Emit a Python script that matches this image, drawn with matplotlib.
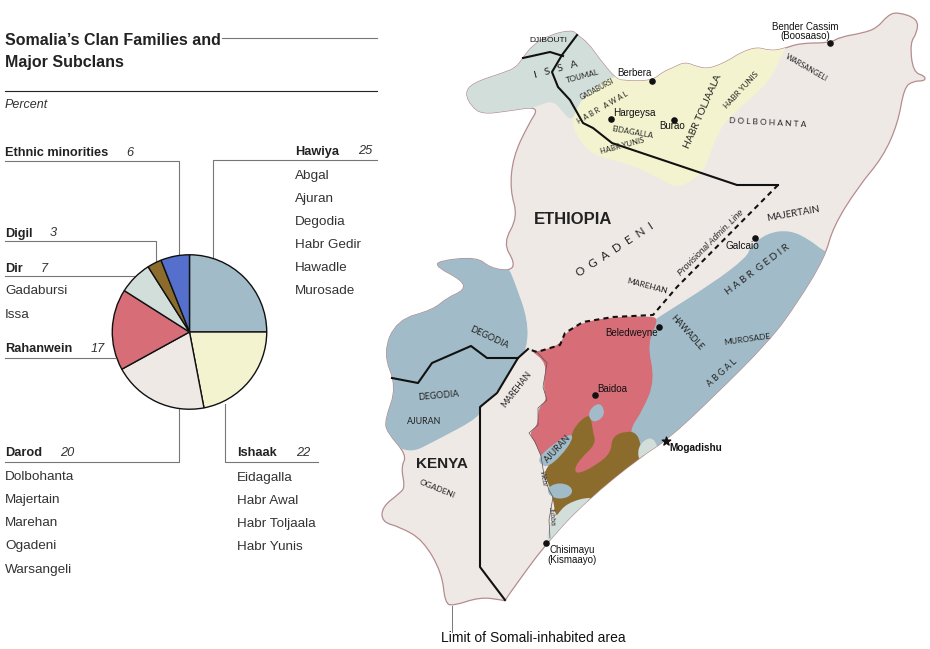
import matplotlib
matplotlib.use('Agg')
import matplotlib.pyplot as plt
from matplotlib.patches import Ellipse, PathPatch
from matplotlib.path import Path

# pie values
clans = ['Hawiya', 'Ishaak', 'Darod', 'Rahanwein', 'Dir', 'Digil', 'Ethnic minorities']
percent = [25, 22, 20, 17, 7, 3, 6]
clan_colors = ['#A1BCC8', '#F3F4CF', '#EFE9E6', '#D66D77', '#D2DEDA', '#8B6C2C', '#5470CC']

hawiya_sub = ['Abgal', 'Ajuran', 'Degodia', 'Habr Gedir', 'Hawadle', 'Murosade']
ishaak_sub = ['Eidagalla', 'Habr Awal', 'Habr Toljaala', 'Habr Yunis']
darod_sub = ['Dolbohanta', 'Majertain', 'Marehan', 'Ogadeni', 'Warsangeli']
dir_sub = ['Gadabursi', 'Issa']

# map outlines, traced in pixels of the reference
# the regions run past the coast where they meet it, they get clipped to the land
land = [(465, 93), (473, 83), (503, 73), (516, 68), (523, 58), (533, 45), (550, 35), (572, 30), (577, 35), (588, 43),
        (600, 60), (615, 78), (623, 81), (652, 81), (663, 72), (673, 68), (685, 62), (697, 67), (710, 69),
        (730, 60), (740, 53), (757, 47), (770, 51), (783, 49), (800, 43), (830, 43), (840, 37), (863, 33),
        (877, 28), (888, 15), (898, 12), (918, 19), (917, 33), (910, 43), (913, 72), (925, 76), (925, 81),
        (913, 81), (904, 88), (898, 123), (883, 157), (858, 187), (833, 227), (825, 257), (797, 303),
        (770, 340), (713, 397), (667, 440), (640, 457), (587, 500), (547, 542), (507, 597), (505, 601),
        (502, 600), (480, 597), (453, 606), (445, 603), (442, 573), (423, 540), (400, 527), (382, 522),
        (382, 507), (400, 493), (405, 487), (401, 467), (407, 455), (387, 432), (385, 420), (397, 387),
        (383, 353), (397, 320), (433, 310), (447, 298), (465, 290), (462, 280), (437, 267), (438, 261),
        (477, 257), (490, 268), (510, 271), (515, 263), (503, 243), (518, 217), (510, 190), (513, 157),
        (528, 125), (540, 106), (507, 111), (483, 114), (472, 107)]
issa = [(455, 90), (470, 70), (516, 58), (525, 40), (550, 25), (585, 25), (600, 50), (622, 72), (625, 80), (597, 87),
        (582, 98), (572, 123), (560, 108), (552, 101), (540, 105), (507, 116), (480, 122), (455, 110)]
ishaak_area = [(612, 76), (650, 72), (663, 60), (685, 50), (710, 58), (757, 36), (792, 40), (783, 51),
               (770, 82), (733, 113), (717, 133), (705, 170), (693, 180), (677, 188), (663, 180),
               (633, 165), (600, 157), (587, 150), (575, 133), (572, 120), (582, 98), (597, 87)]
hawiya_east = [(838, 258), (822, 250), (810, 240), (790, 230), (767, 233), (750, 247), (747, 257), (713, 283),
               (657, 318), (640, 330), (640, 380), (625, 432), (640, 450), (665, 448), (720, 403), (776, 345),
               (804, 306)]
hawiya_west = [(407, 455), (380, 432), (378, 420), (390, 387), (376, 353), (390, 314), (433, 303), (445, 292),
               (458, 286), (456, 280), (430, 267), (432, 255), (480, 250), (492, 262), (508, 266),
               (515, 283), (528, 320), (527, 349), (518, 358), (497, 393), (480, 407), (480, 417),
               (437, 440)]
rahanwein_area = [(530, 350), (537, 352), (560, 345), (565, 333), (583, 322), (613, 317), (650, 316), (659, 319),
                  (647, 343), (655, 380), (643, 410), (628, 432), (640, 445), (612, 470), (577, 482),
                  (560, 470), (545, 465), (541, 456), (535, 442), (529, 433), (538, 425), (538, 408), (547, 400),
                  (543, 387), (547, 363)]
inner_blue = [(600, 401), (606, 415), (593, 424), (587, 412)]
ajuran_area = [(538, 458), (552, 445), (571, 433), (573, 439), (562, 455), (548, 467), (541, 465)]
digil_area = [(587, 415), (575, 426), (571, 437), (562, 453), (548, 465), (544, 475), (548, 482), (553, 498),
              (556, 520), (567, 505), (587, 500), (600, 505), (650, 462), (642, 453), (638, 433), (625, 431),
              (612, 437), (611, 453), (595, 466), (578, 474), (574, 470), (580, 459), (596, 444), (593, 432),
              (591, 418)]
dir_south = [(592, 496), (567, 503), (557, 515), (549, 525), (546, 548), (600, 505)]
dir_moga = [(637, 447), (650, 436), (658, 445), (655, 455), (640, 465)]

ethiopia_border = [(577, 35), (562, 55), (552, 72), (558, 87), (570, 100), (583, 123), (593, 128),
                   (612, 143), (737, 185), (778, 185)]
admin_line = [(778, 185), (677, 287), (653, 315), (613, 317), (583, 322), (565, 333), (560, 345),
              (537, 352), (528, 349)]
kenya_border = [(528, 349), (518, 358), (497, 393), (480, 407), (480, 567), (505, 600)]
kenya_ethiopia = [(392, 378), (418, 383), (432, 363), (471, 346), (487, 358), (518, 358)]
djibouti_border = [(523, 58), (550, 52), (563, 56)]
river = [(537, 352), (547, 363), (543, 387), (547, 400), (538, 408), (538, 425), (529, 433), (535, 442), (541, 456),
         (544, 475), (549, 490), (553, 497), (549, 520), (550, 538)]

W, H = 930, 649
SANS = 'Liberation Sans'
MAP = 'Lato'
GREY = '#777777'
DARK = '#333333'


def rounded(pts):
    # closed outline, quadratic curves between edge midpoints
    mids = [((a[0] + b[0]) / 2, (a[1] + b[1]) / 2) for a, b in zip(pts, pts[1:] + pts[:1])]
    verts = [mids[-1]]
    codes = [Path.MOVETO]
    for i, p in enumerate(pts):
        verts += [p, mids[i]]
        codes += [Path.CURVE3, Path.CURVE3]
    return Path(verts, codes)


def main():
    fig = plt.figure(figsize=(W / 100, H / 100), dpi=100)
    ax = fig.add_axes([0, 0, 1, 1])
    ax.set_xlim(0, W)
    ax.set_ylim(H, 0)
    ax.axis('off')

    def txt(x, y, s, size=9.7, color=DARK, weight='normal', style='normal', ha='left', rot=0, font=SANS):
        if size >= 9:
            y += 1.5
        ax.text(x, y, s, fontsize=size, color=color, fontweight=weight, fontstyle=style, ha=ha,
                va='center', rotation=rot, rotation_mode='anchor', family=font, zorder=6)

    def line(pts, color=GREY, lw=0.8, ls='-', z=2):
        ax.plot([p[0] for p in pts], [p[1] for p in pts], color=color, lw=lw, ls=ls, zorder=z,
                solid_joinstyle='round')

    # title block
    txt(5, 39, 'Somalia\u2019s Clan Families and', size=11.5, weight='bold', color='#222222')
    txt(5, 61, 'Major Subclans', size=11.5, weight='bold', color='#222222')
    line([(222, 38), (377, 38)])
    line([(5, 91), (377, 91)], color='#222222')
    txt(5, 104, 'Percent', size=9, style='italic')

    # labels on the pie and their leaders
    head = dict(size=9.2, weight='bold', color='#222222')
    num = dict(size=9.2, style='italic')
    txt(5, 151, clans[6], **head)
    txt(126, 151, str(percent[6]), **num)
    line([(5, 160.5), (179, 160.5), (179, 256)])
    txt(5, 232, clans[5], **head)
    txt(50, 232, str(percent[5]), **num)
    line([(5, 241), (156, 241), (156, 265)])
    txt(5, 267, clans[4], **head)
    txt(41, 267, str(percent[4]), **num)
    line([(5, 276), (135, 276)])
    for i, s in enumerate(dir_sub):
        txt(5, 290 + i * 23.3, s)
    txt(5, 348, clans[3], **head)
    txt(91, 348, str(percent[3]), **num)
    line([(5, 357.5), (115, 357.5)])
    txt(5, 452, clans[2], **head)
    txt(60, 452, str(percent[2]), **num)
    line([(5, 462), (179, 462), (179, 408)])
    for i, s in enumerate(darod_sub):
        txt(5, 476 + i * 23, s)
    txt(237, 452, clans[1], **head)
    txt(296, 452, str(percent[1]), **num)
    line([(225, 404), (225, 462), (318, 462)])
    for i, s in enumerate(ishaak_sub):
        txt(237, 476 + i * 23, s)
    txt(295, 150, clans[0], **head)
    txt(358, 150, str(percent[0]), **num)
    line([(213, 258), (213, 160), (377, 160)])
    for i, s in enumerate(hawiya_sub):
        txt(295, 174 + i * 23.2, s)

    # pie
    cx, cy, r = 189.5, 332, 78
    pie_ax = fig.add_axes([(cx - r) / W, 1 - (cy + r) / H, 2 * r / W, 2 * r / H])
    pie_ax.pie(percent, colors=clan_colors, startangle=90, counterclock=False, radius=1,
               wedgeprops=dict(edgecolor='#111111', linewidth=1.0))
    pie_ax.set_xlim(-1.01, 1.01)
    pie_ax.set_ylim(-1.01, 1.01)

    # map
    land_patch = PathPatch(rounded(land), fc='#EFE9E6', ec='#B58C90', lw=0.9, zorder=1)
    ax.add_patch(land_patch)
    for pts, col in [(issa, '#D2DEDA'), (ishaak_area, '#F3F4CF'), (hawiya_east, '#A1BCC8'),
                     (hawiya_west, '#A1BCC8'), (rahanwein_area, '#D66D77'), (digil_area, '#8B6C2C'),
                     (inner_blue, '#A1BCC8'), (ajuran_area, '#A1BCC8'), (dir_south, '#D2DEDA'),
                     (dir_moga, '#D2DEDA')]:
        region = PathPatch(rounded(pts), fc=col, ec='none', zorder=2)
        ax.add_patch(region)
        region.set_clip_path(land_patch)
    ax.add_patch(Ellipse((560, 491), 24, 15, fc='#A1BCC8', ec='none', zorder=3))
    line(river, color='#555555', lw=0.5, z=3)
    for pts in (ethiopia_border, kenya_border, kenya_ethiopia, djibouti_border):
        line(pts, color='#111111', lw=1.5, z=4)
    line(admin_line, color='#111111', lw=1.5, ls=(0, (2.5, 2)), z=4)
    line([(452, 606), (452, 632)], lw=0.7)

    # cities
    cities = [(830, 43), (652, 81), (611, 118.5), (674, 120), (755, 238), (659, 326.5), (594.5, 395), (546, 543)]
    ax.scatter([c[0] for c in cities], [c[1] for c in cities], s=14, color='#111111', zorder=5)
    ax.scatter([666], [441], s=40, marker='*', color='#111111', zorder=5)
    black = '#111111'
    txt(805, 27, 'Bender Cassim', size=7, ha='center', color=black)
    txt(805, 36, '(Boosaaso)', size=7, ha='center', color=black)
    txt(634, 73, 'Berbera', size=7, ha='center', color=black)
    txt(634, 113, 'Hargeysa', size=7.2, ha='center', color=black)
    txt(672, 126, 'Burao', size=7, ha='center', color=black)
    txt(742, 246, 'Galcaio', size=7.2, ha='center', color=black)
    txt(548, 40, 'DJIBOUTI', size=6, ha='center', color=black)
    txt(632, 333, 'Beledweyne', size=7, ha='center', color=black)
    txt(612, 389, 'Baidoa', size=7, ha='center', color=black)
    txt(696, 448, 'Mogadishu', size=7.2, ha='center', color=black, weight='bold')
    txt(572, 550, 'Chisimayu', size=7, ha='center', color=black)
    txt(572, 560, '(Kismaayo)', size=7, ha='center', color=black)
    txt(533, 637, 'Limit of Somali-inhabited area', size=10, ha='center', color=black)
    txt(573, 218, 'ETHIOPIA', size=12, weight='bold', ha='center', color='#222222')
    txt(442, 462, 'KENYA', size=11, weight='bold', ha='center', color='#222222')

    # clan names on the map
    names = [(556, 70, 'I   S   S   A', 7.5, 15), (583, 76, 'TOUMAL', 5.8, 15), (597, 89, 'GADABURSI', 4.8, 28),
             (603, 108, 'H A B R   A W A L', 5.2, 30), (632, 132, 'EIDAGALLA', 5.6, -10),
             (622, 146, 'HABR YUNIS', 5.5, 15), (703, 111, 'HABR TOLJAALA', 7.4, 66),
             (741, 90, 'HABR YUNIS', 5.8, 47), (768, 123, 'D O L B O H A N T A', 6, -3),
             (807, 68, 'WARSANGELI', 5.3, -30), (793, 214, 'MAJERTAIN', 7, 10),
             (615, 250, 'O  G  A  D  E  N  I', 8.5, 33), (647, 286, 'MAREHAN', 6, -15),
             (758, 270, 'H A B R  G E D I R', 7, 37), (687, 333, 'HAWADLE', 6.4, -48),
             (747, 339, 'MUROSADE', 6, 8), (722, 373, 'A B G A L', 6.2, 42), (489, 338, 'DEGODIA', 6.6, -25),
             (438, 396, 'DEGODIA', 6.5, 5), (424, 422, 'AJURAN', 6.4, 0), (517, 389, 'MAREHAN', 6.2, 52),
             (558, 449, 'AJURAN', 6.4, 47), (437, 489, 'OGADENI', 6, -22)]
    for x, y, s, size, rot in names:
        txt(x, y, s, size=size, ha='center', rot=rot, color='#222222', font=MAP)
    txt(711, 243, 'Provisional Admin. Line', size=6.2, style='italic', ha='center', rot=45, color='#222222')
    txt(542, 478, 'Webi', size=5, style='italic', ha='center', rot=-80)
    txt(551, 515, 'Jubba', size=5, style='italic', ha='center', rot=-85)

    fig.savefig('out.png', dpi=100)


if __name__ == "__main__":
    main()
